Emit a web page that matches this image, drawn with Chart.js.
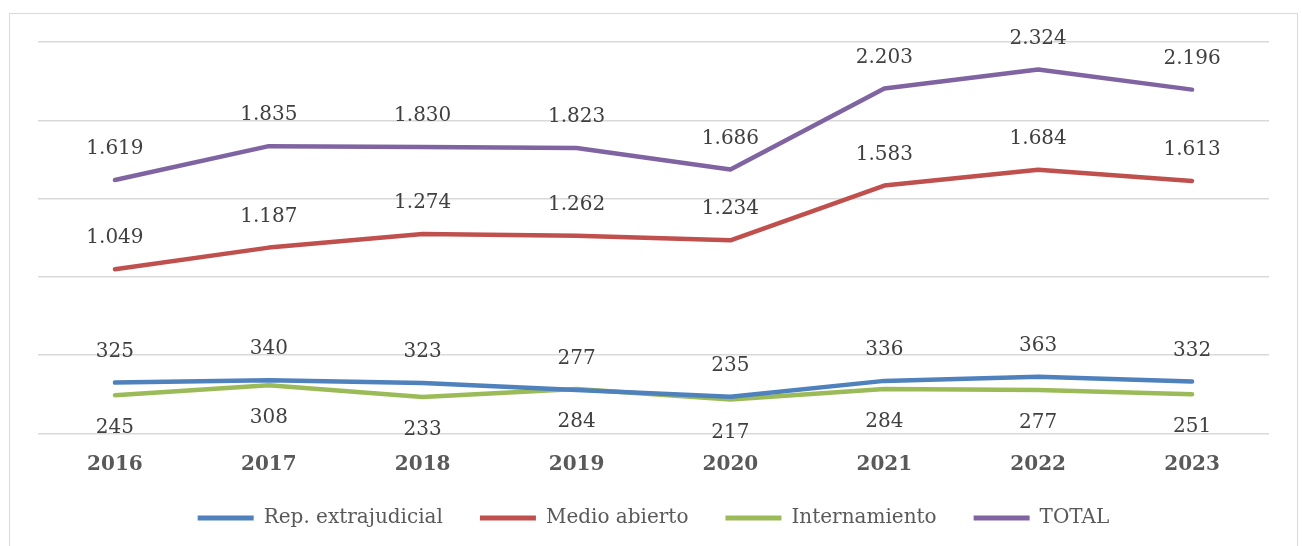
<!DOCTYPE html>
<html>
<head>
<meta charset="utf-8">
<script src="https://cdn.jsdelivr.net/npm/chart.js@4.4.0/dist/chart.umd.min.js"></script>
<style>
  html, body { margin: 0; padding: 0; background: #fff; overflow: hidden; }
  #frame { position: absolute; left: 9px; top: 13px; width: 1289px; height: 600px; border: 1.5px solid #d9d9d9; box-sizing: border-box; }
  #wrap { position: absolute; left: 0; top: 0; width: 1302px; height: 546px; }
</style>
</head>
<body>
<div id="frame"></div>
<div id="wrap"><canvas id="chart" width="1302" height="546"></canvas></div>
<script>
// ---- data ----
const years = ["2016", "2017", "2018", "2019", "2020", "2021", "2022", "2023"];
const repExtrajudicial = [325, 340, 323, 277, 235, 336, 363, 332];
const medioAbierto     = [1049, 1187, 1274, 1262, 1234, 1583, 1684, 1613];
const internamiento    = [245, 308, 233, 284, 217, 284, 277, 251];
const total            = [1619, 1835, 1830, 1823, 1686, 2203, 2324, 2196];

const LEGEND_PAD = 37;

// spanish thousands separator, 1.619
function fmt(v) {
  return String(v).replace(/\B(?=(\d{3})+(?!\d))/g, ".");
}

// draws the value labels next to each point (green goes under the line)
const valueLabels = {
  id: "valueLabels",
  afterLayout(chart) {
    // legend sits a bit higher than chart.js would put it
    const lg = chart.legend;
    const shift = 508 - (lg.top + LEGEND_PAD);
    lg.top += shift;
    lg.bottom += shift;
  },
  afterDatasetsDraw(chart) {
    const ctx = chart.ctx;
    ctx.save();
    ctx.font = "20px 'DejaVu Serif'";
    ctx.fillStyle = "#404040";
    ctx.textAlign = "center";
    ctx.textBaseline = "middle";
    chart.data.datasets.forEach((ds, i) => {
      const meta = chart.getDatasetMeta(i);
      const dy = ds.labelBelow ? 33 : -31;
      meta.data.forEach((pt, j) => {
        ctx.fillText(fmt(ds.data[j]), pt.x, pt.y + dy);
      });
    });
    ctx.restore();
  }
};

function lineSet(label, data, color, below) {
  return {
    label, data,
    borderColor: color,
    backgroundColor: color,
    borderWidth: 4.5,
    borderCapStyle: "round",
    borderJoinStyle: "round",
    pointRadius: 0,
    tension: 0,
    labelBelow: below
  };
}

new Chart(document.getElementById("chart"), {
  type: "line",
  plugins: [valueLabels],
  data: {
    labels: years,
    datasets: [
      lineSet("Rep. extrajudicial", repExtrajudicial, "#4F81BD", false),
      lineSet("Medio abierto", medioAbierto, "#C0504D", false),
      lineSet("Internamiento", internamiento, "#9BBB59", true),
      lineSet("TOTAL", total, "#8064A2", false)
    ]
  },
  options: {
    responsive: false,
    animation: false,
    layout: { padding: { left: 38, right: 33, top: 42, bottom: 0 } },
    plugins: {
      tooltip: { enabled: false },
      legend: {
        position: "bottom",
        maxHeight: 66.5,
        labels: {
          font: { family: "'DejaVu Serif'", size: 20 },
          color: "#595959",
          boxWidth: 56,
          boxHeight: 5,
          padding: LEGEND_PAD,
          generateLabels(chart) {
            return chart.data.datasets.map((ds, i) => ({
              text: ds.label,
              fillStyle: ds.borderColor,
              strokeStyle: ds.borderColor,
              lineWidth: 0,
              fontColor: "#595959",
              datasetIndex: i,
              hidden: false
            }));
          }
        }
      }
    },
    scales: {
      x: {
        offset: true,
        grid: { display: false },
        border: { display: false },
        ticks: {
          color: "#595959",
          font: { family: "'DejaVu Serif'", size: 20, weight: "bold" },
          padding: 11
        },
        afterFit(scale) { scale.height = 46; }
      },
      y: {
        min: 0, max: 2500,
        ticks: { stepSize: 500, display: false },
        border: { display: false },
        grid: { color: "#d9d9d9", lineWidth: 1.5, drawTicks: false }
      }
    }
  }
});
</script>
</body>
</html>
